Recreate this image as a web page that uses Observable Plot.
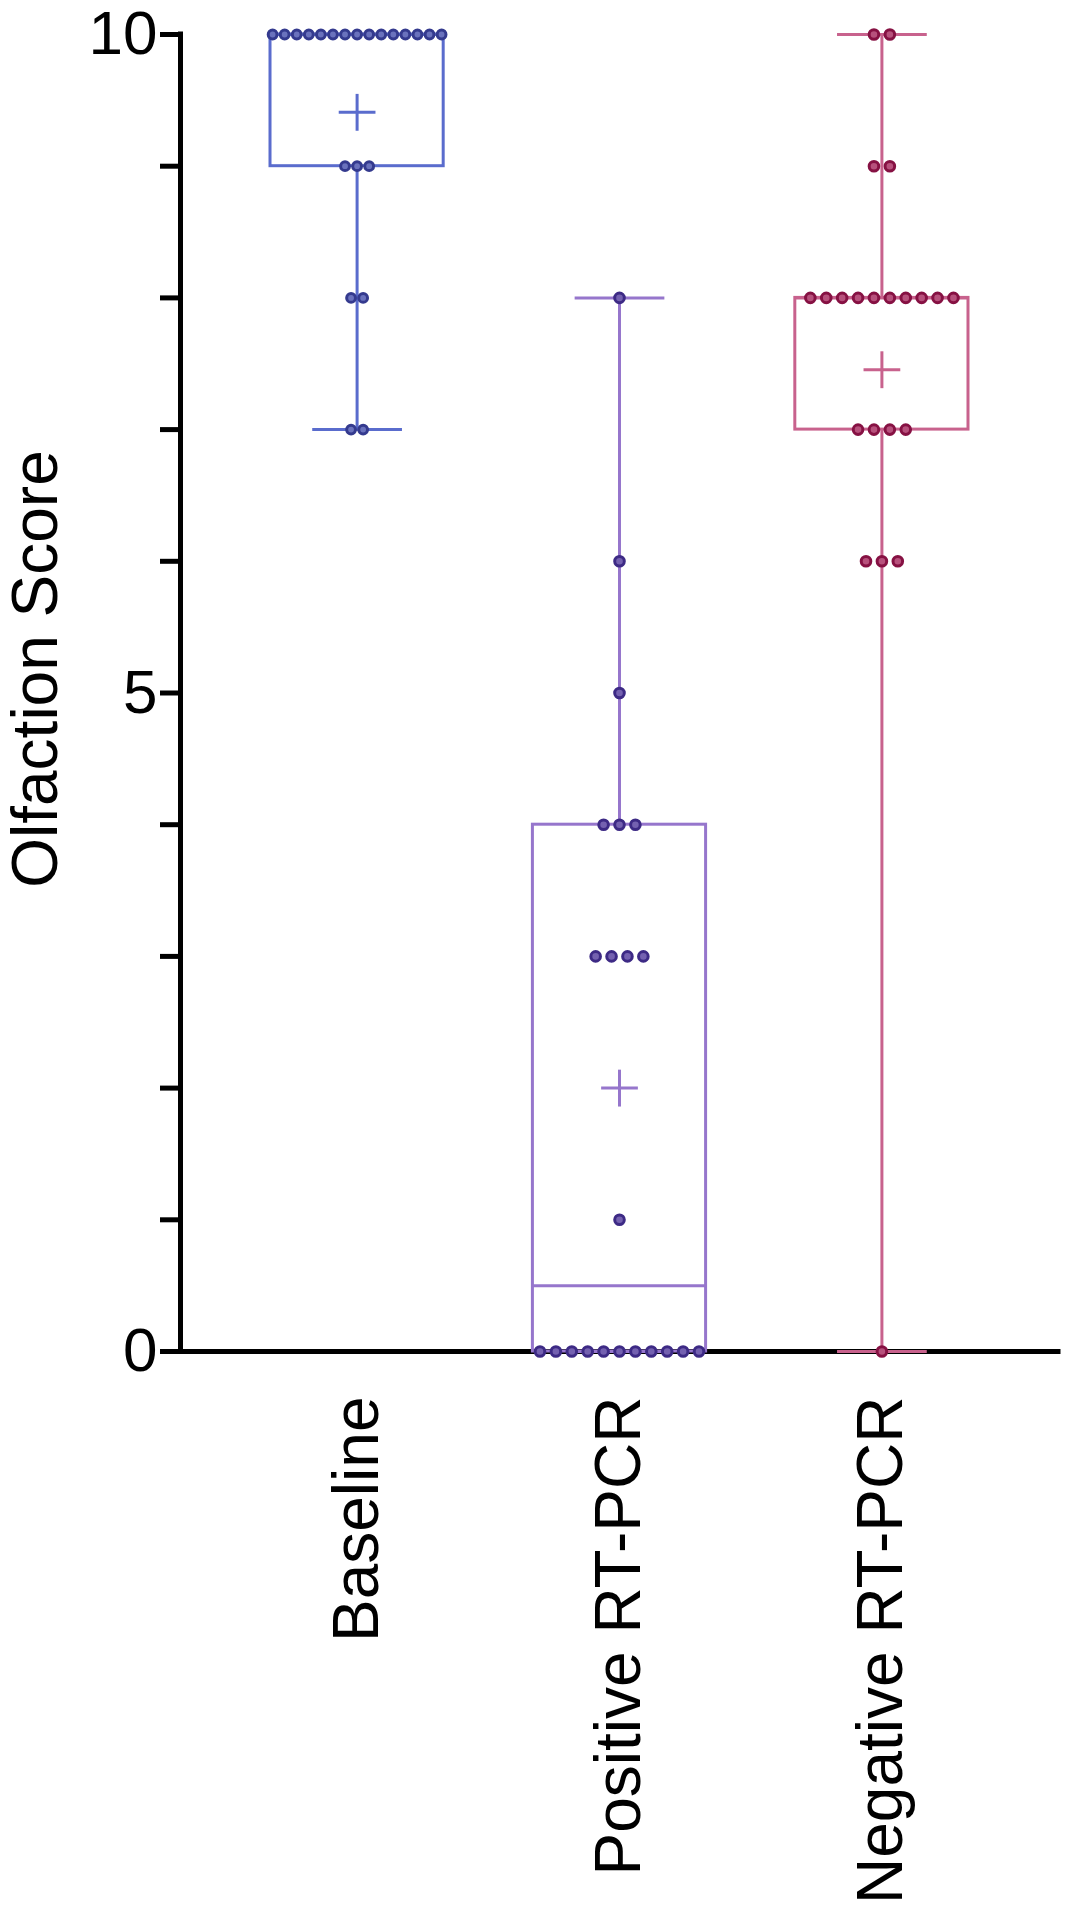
<!DOCTYPE html>
<html>
<head>
<meta charset="utf-8">
<script src="https://cdn.jsdelivr.net/npm/d3@7"></script>
<script src="https://cdn.jsdelivr.net/npm/@observablehq/plot@0.6"></script>
<style>
  html, body { margin: 0; padding: 0; background: #fff; }
  #chart svg { display: block; }
</style>
</head>
<body>
<div id="chart"></div>
<script>
// ---- data ----
const categories = ["Baseline", "Positive RT-PCR", "Negative RT-PCR"];

const baselineScores = [10, 10, 10, 10, 10, 10, 10, 10, 10, 10, 10, 10, 10, 10, 10,
                        9, 9, 9, 8, 8, 7, 7];
const positiveScores = [8, 6, 5, 4, 4, 4, 3, 3, 3, 3, 1,
                        0, 0, 0, 0, 0, 0, 0, 0, 0, 0, 0];
const negativeScores = [10, 10, 9, 9, 8, 8, 8, 8, 8, 8, 8, 8, 8, 8,
                        7, 7, 7, 7, 6, 6, 6, 0];

const yTicks = [0, 1, 2, 3, 4, 5, 6, 7, 8, 9, 10];
const yLabelTicks = [0, 5, 10];

const boxColors = ["#5a6ccd", "#9676cc", "#c8628d"];
const dotColors = ["#343a8e", "#3d2a85", "#861143"];
const dotCenterColors = ["#6a72bd", "#7461b0", "#b7517c"];

// ---- style / layout constants ----
const dotSpacing = [0.046, 0.0606, 0.0606]; // horizontal spacing of tied points (x units)
const boxHalf = 0.33, capHalf = 0.171, plusHalfX = 0.07, plusHalfY = 0.14;
const xDomain = [-0.673, 2.673];
const font = "'Liberation Sans', Arial, Helvetica, sans-serif";

// GraphPad-style quantile ((n+1)p)
function gpQuantile(sorted, p) {
  const n = sorted.length;
  const h = (n + 1) * p - 1;
  const lo = Math.max(0, Math.min(n - 1, Math.floor(h)));
  const hi = Math.max(0, Math.min(n - 1, lo + 1));
  const f = h - Math.floor(h);
  return sorted[lo] + f * (sorted[hi] - sorted[lo]);
}

const groups = [baselineScores, positiveScores, negativeScores].map((vals, i) => {
  const s = vals.slice().sort((a, b) => a - b);
  return {
    i, name: categories[i],
    min: d3.min(s), max: d3.max(s),
    q1: gpQuantile(s, 0.25), q3: gpQuantile(s, 0.75),
    median: d3.median(s), mean: d3.mean(s)
  };
});

// beeswarm-like row layout: ties spread symmetrically around the centre
const points = [];
[baselineScores, positiveScores, negativeScores].forEach((vals, i) => {
  const counts = d3.rollup(vals, v => v.length, v => v);
  for (const [v, n] of counts) {
    for (let j = 0; j < n; j++) {
      points.push({i, score: v, x: i + (j - (n - 1) / 2) * dotSpacing[i]});
    }
  }
});

const marks = [];
// axis lines
marks.push(Plot.ruleY([0], {stroke: "#000", strokeWidth: 5, strokeLinecap: "square"}));
marks.push(Plot.ruleX([xDomain[0]], {stroke: "#000", strokeWidth: 5, strokeLinecap: "square"}));

groups.forEach(g => {
  const c = boxColors[g.i];
  const one = [g];
  const lineOpts = {stroke: c, strokeWidth: 3};
  marks.push(Plot.rect(one, {x1: d => d.i - boxHalf, x2: d => d.i + boxHalf, y1: "q1", y2: "q3", fill: "none", ...lineOpts}));
  marks.push(Plot.link(one, {x1: d => d.i - boxHalf, x2: d => d.i + boxHalf, y1: "median", y2: "median", ...lineOpts}));
  marks.push(Plot.link(one, {x1: "i", x2: "i", y1: "min", y2: "q1", ...lineOpts}));
  marks.push(Plot.link(one, {x1: "i", x2: "i", y1: "q3", y2: "max", ...lineOpts}));
  marks.push(Plot.link(one, {x1: d => d.i - capHalf, x2: d => d.i + capHalf, y1: "min", y2: "min", ...lineOpts}));
  marks.push(Plot.link(one, {x1: d => d.i - capHalf, x2: d => d.i + capHalf, y1: "max", y2: "max", ...lineOpts}));
  marks.push(Plot.link(one, {x1: d => d.i - plusHalfX, x2: d => d.i + plusHalfX, y1: "mean", y2: "mean", ...lineOpts}));
  marks.push(Plot.link(one, {x1: "i", x2: "i", y1: d => d.mean - plusHalfY, y2: d => d.mean + plusHalfY, ...lineOpts}));
});

groups.forEach(g => {
  const pts = points.filter(p => p.i === g.i);
  const r = g.i === 0 ? 4.4 : 4.8;
  marks.push(Plot.dot(pts, {x: "x", y: "score", r, fill: dotCenterColors[g.i], stroke: dotColors[g.i], strokeWidth: 3}));
});

// axes
marks.push(Plot.axisY({
  ticks: yTicks, tickSize: 20, tickPadding: 3, strokeWidth: 5,
  tickFormat: d => yLabelTicks.includes(d) ? d : "",
  fontSize: 62, label: null, fill: "#000", stroke: "#000"
}));
marks.push(Plot.axisX({
  ticks: [0, 1, 2], tickFormat: i => categories[i],
  tickRotate: -90, tickSize: 0, tickPadding: 45,
  fontSize: 64, label: null, fill: "#000"
}));
marks.push(Plot.text(["Olfaction Score"], {
  frameAnchor: "left", textAnchor: "middle", dx: -144, dy: -24, rotate: -90, fontSize: 64, fill: "#000"
}));

const chart = Plot.plot({
  width: 1067,
  height: 1920,
  marginTop: 34,
  marginBottom: 569,
  marginLeft: 180,
  marginRight: 9,
  x: {type: "linear", domain: xDomain},
  y: {domain: [0, 10]},
  style: {fontFamily: font, fontSize: "64px", color: "#000", background: "#fff"},
  marks
});
document.getElementById("chart").appendChild(chart);
</script>
</body>
</html>
